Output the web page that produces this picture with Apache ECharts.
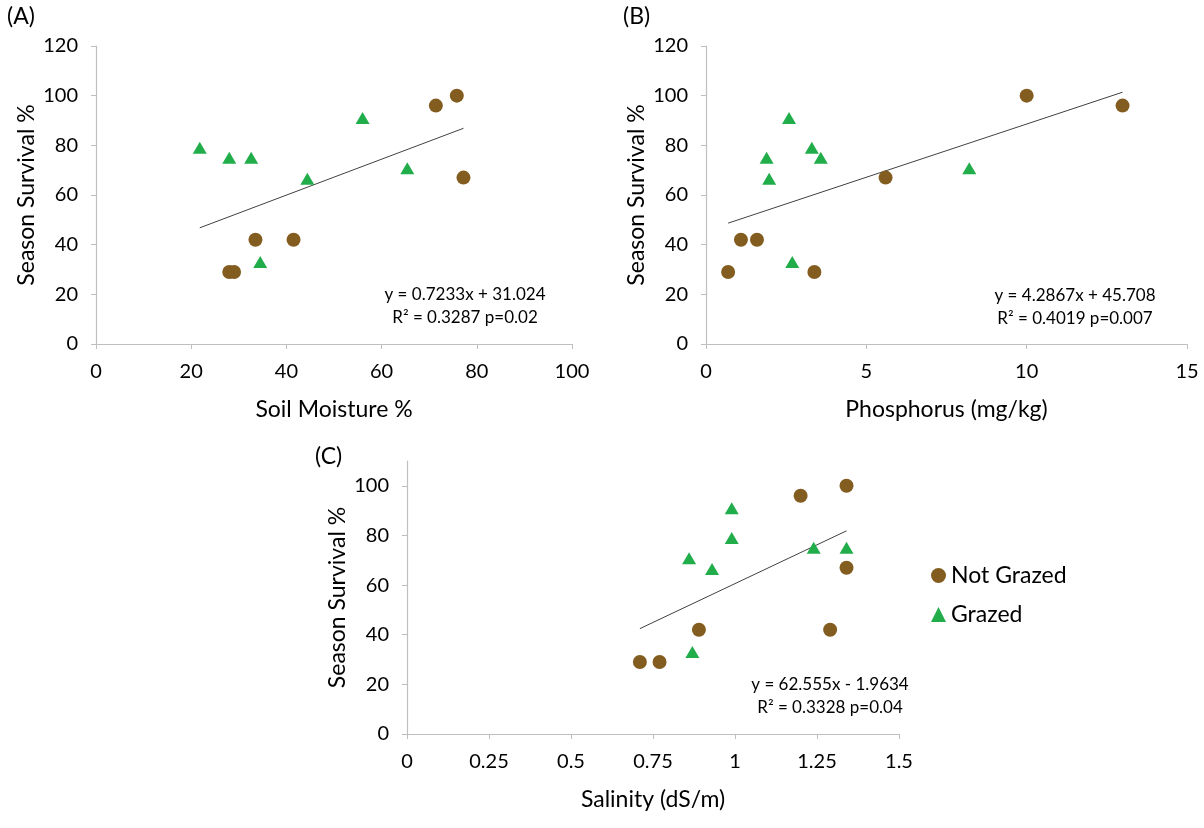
<!DOCTYPE html>
<html>
<head>
<meta charset="utf-8">
<script src="https://cdn.jsdelivr.net/npm/echarts@6/dist/echarts.min.js"></script>
<style>
  html, body { margin: 0; padding: 0; background: #fff; }
  #main { width: 1204px; height: 828px; }
</style>
</head>
<body>
<div id="main"></div>
<script>
var myChart = echarts.init(document.getElementById('main'));

// survival % (same plots in every panel)
var survivalNG = [100, 96, 67, 42, 42, 29, 29];
var survivalG = [91, 79, 75, 75, 66.5, 70.8, 33];

// (A) soil moisture %
var moistureNG = [75.8, 71.4, 77.2, 33.5, 41.5, 28.0, 29.0];
var moistureG = [56.0, 21.8, 28.0, 32.6, 44.4, 65.4, 34.5];
// (B) phosphorus mg/kg
var phosNG = [10.0, 12.99, 5.6, 1.09, 1.59, 0.69, 3.38];
var phosG = [2.59, 3.3, 1.89, 3.58, 1.97, 8.21, 2.69];
// (C) salinity dS/m
var salNG = [1.34, 1.2, 1.34, 0.89, 1.29, 0.71, 0.77];
var salG = [0.99, 0.99, 1.24, 1.34, 0.93, 0.86, 0.87];

// trend lines: slope, intercept
var slopes = [0.7233, 4.2867, 62.555];
var intercepts = [31.024, 45.708, -1.9634];
var eqTexts = [
  'y = 0.7233x + 31.024\nR\u00b2 = 0.3287 p=0.02',
  'y = 4.2867x + 45.708\nR\u00b2 = 0.4019 p=0.007',
  'y = 62.555x - 1.9634\nR\u00b2 = 0.3328 p=0.04'
];
var xNames = ['Soil Moisture %', 'Phosphorus (mg/kg)', 'Salinity (dS/m)'];

var FONT = 'Lato';
var brown = '#835d1f';
var green = '#22ad4b';

function pairs(xs, ys) {
  return xs.map(function (x, i) { return [x, ys[i]]; });
}
function trend(k, xsA, xsB) {
  var all = xsA.concat(xsB);
  var lo = Math.min.apply(null, all), hi = Math.max.apply(null, all);
  return [[lo, slopes[k] * lo + intercepts[k]], [hi, slopes[k] * hi + intercepts[k]]];
}

var axisLine = { lineStyle: { color: '#bfbfbf', width: 1.2 } };
var axisTick = { show: true, length: 5, lineStyle: { color: '#bfbfbf' } };
var lbl = { color: '#000', fontSize: 20, fontFamily: FONT };
var nameStyle = { color: '#000', fontSize: 23, fontFamily: FONT };

function xAx(i, min, max, interval) {
  return {
    gridIndex: i, type: 'value', min: min, max: max, interval: interval,
    axisLine: axisLine, axisTick: axisTick, splitLine: { show: false },
    axisLabel: Object.assign({ margin: 18 }, lbl),
    name: xNames[i], nameLocation: 'middle', nameGap: 54,
    nameTextStyle: nameStyle
  };
}
function yAx(i, max, extra) {
  var o = {
    gridIndex: i, type: 'value', min: 0, max: max, interval: 20,
    axisLine: Object.assign({ show: true }, axisLine), axisTick: axisTick, splitLine: { show: false },
    axisLabel: Object.assign({ margin: 18 }, lbl),
    name: 'Season Survival %', nameLocation: 'middle', nameGap: 58, nameRotate: 90,
    nameTextStyle: nameStyle
  };
  return Object.assign(o, extra || {});
}

function scatter(name, i, data, shape, color, size) {
  return {
    name: name, type: 'scatter', xAxisIndex: i, yAxisIndex: i,
    symbol: shape, symbolSize: size, data: data,
    itemStyle: { color: color, opacity: 1 }, z: 3
  };
}
function line(i, data) {
  return {
    name: 'trend' + i, type: 'line', xAxisIndex: i, yAxisIndex: i, data: data,
    symbol: 'none', silent: true, lineStyle: { color: '#404040', width: 1 }, z: 2
  };
}

var option = {
  animation: false,
  textStyle: { fontFamily: FONT },
  grid: [
    { left: 96, top: 46, width: 476, height: 298 },
    { left: 706, top: 46, width: 481, height: 298 },
    { left: 407, top: 461, width: 492, height: 273 }
  ],
  xAxis: [
    xAx(0, 0, 100, 20),
    xAx(1, 0, 15, 5),
    xAx(2, 0, 1.5, 0.25)
  ],
  yAxis: [
    yAx(0, 120),
    yAx(1, 120),
    yAx(2, 110, {
      axisTick: Object.assign({ customValues: [0, 20, 40, 60, 80, 100] }, axisTick),
      axisLabel: Object.assign({ margin: 18, customValues: [0, 20, 40, 60, 80, 100] }, lbl)
    })
  ],
  legend: {
    orient: 'vertical', left: 926, top: 559, itemGap: 16,
    itemWidth: 15, itemHeight: 15,
    data: [
      { name: 'Not Grazed', icon: 'circle' },
      { name: 'Grazed', icon: 'triangle' }
    ],
    textStyle: { color: '#000', fontSize: 23, fontFamily: FONT }
  },
  graphic: [
    { type: 'text', left: 7, top: 5, style: { text: '(A)', fontSize: 23, fontFamily: FONT, fill: '#000' } },
    { type: 'text', left: 623, top: 5, style: { text: '(B)', fontSize: 23, fontFamily: FONT, fill: '#000' } },
    { type: 'text', left: 315, top: 445, style: { text: '(C)', fontSize: 23, fontFamily: FONT, fill: '#000' } },
    { type: 'text', x: 465, y: 283, style: { text: eqTexts[0], fontSize: 17, lineHeight: 23, align: 'center', fontFamily: FONT, fill: '#000' } },
    { type: 'text', x: 1075, y: 284, style: { text: eqTexts[1], fontSize: 17, lineHeight: 23, align: 'center', fontFamily: FONT, fill: '#000' } },
    { type: 'text', x: 830, y: 673, style: { text: eqTexts[2], fontSize: 17, lineHeight: 23, align: 'center', fontFamily: FONT, fill: '#000' } }
  ],
  series: [
    line(0, trend(0, moistureNG, moistureG)),
    scatter('Not Grazed', 0, pairs(moistureNG, survivalNG), 'circle', brown, 14),
    scatter('Grazed', 0, pairs(moistureG, survivalG), 'triangle', green, [14, 12]),
    line(1, trend(1, phosNG, phosG)),
    scatter('Not Grazed', 1, pairs(phosNG, survivalNG), 'circle', brown, 14),
    scatter('Grazed', 1, pairs(phosG, survivalG), 'triangle', green, [14, 12]),
    line(2, trend(2, salNG, salG)),
    scatter('Not Grazed', 2, pairs(salNG, survivalNG), 'circle', brown, 14),
    scatter('Grazed', 2, pairs(salG, survivalG), 'triangle', green, [14, 12])
  ]
};
myChart.setOption(option);
</script>
</body>
</html>
